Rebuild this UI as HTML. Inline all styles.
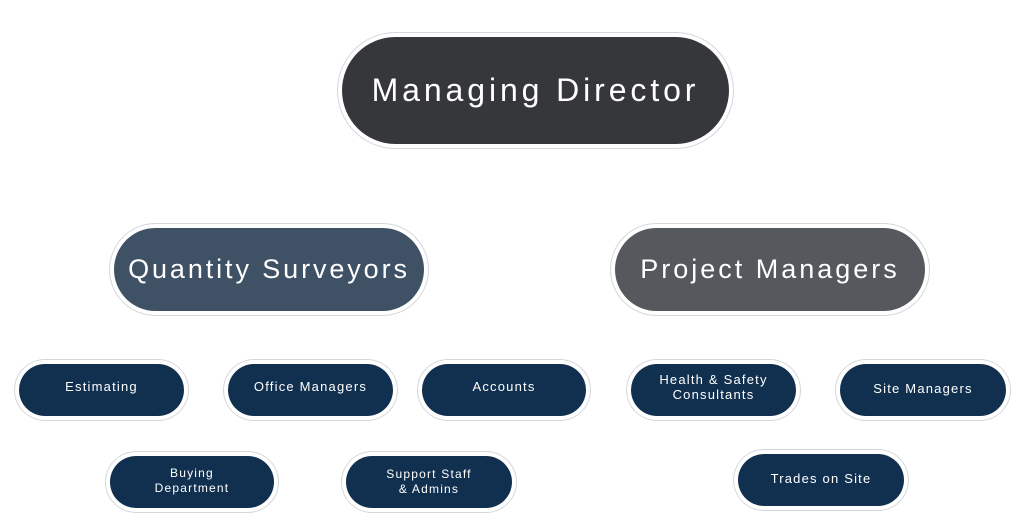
<!DOCTYPE html>
<html><head><style>
body{margin:0;width:1024px;height:531px;background:#fff;position:relative;overflow:hidden;font-family:"Liberation Sans",sans-serif}
.p{position:absolute;box-sizing:border-box;display:flex;align-items:center;justify-content:center;text-align:center;color:#fff;border-radius:999px;box-shadow:0 0 0 4px #fff,0 0 0 5px #d4d8de}
.s{background:#11304f;font-size:13px;letter-spacing:1.2px;line-height:15px}
</style></head><body>
<div class="p" style="left:342px;top:37px;width:387px;height:107px;background:#36373a;font-size:32px;letter-spacing:3.9px">Managing Director</div>
<div class="p" style="left:114px;top:228px;width:310px;height:83px;background:#3f5165;font-size:27px;letter-spacing:2.9px">Quantity Surveyors</div>
<div class="p" style="left:615px;top:228px;width:310px;height:83px;background:#55585c;font-size:27px;letter-spacing:3px">Project Managers</div>
<div class="p s" style="left:19px;top:364px;width:165px;height:52px;padding-bottom:8px">Estimating</div>
<div class="p s" style="left:228px;top:364px;width:165px;height:52px;padding-bottom:8px">Office Managers</div>
<div class="p s" style="left:422px;top:364px;width:164px;height:52px;padding-bottom:8px">Accounts</div>
<div class="p s" style="left:631px;top:364px;width:165px;height:52px;padding-bottom:6px">Health &amp; Safety<br>Consultants</div>
<div class="p s" style="left:840px;top:364px;width:166px;height:52px;padding-bottom:3px">Site Managers</div>
<div class="p s" style="left:110px;top:456px;width:164px;height:52px;font-size:12px;padding-bottom:2px">Buying<br>Department</div>
<div class="p s" style="left:346px;top:456px;width:166px;height:52px;font-size:12px">Support Staff<br>&amp; Admins</div>
<div class="p s" style="left:738px;top:454px;width:166px;height:52px;padding-bottom:3px">Trades on Site</div>
</body></html>
